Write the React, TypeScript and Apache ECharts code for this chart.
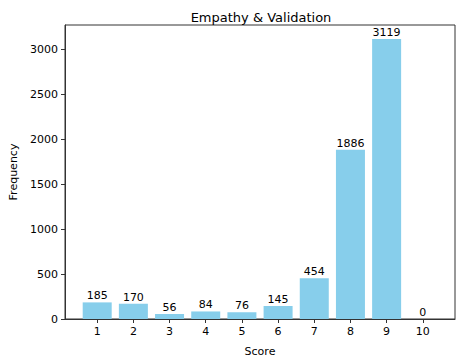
import React, { useEffect, useRef } from "react";
import * as echarts from "echarts";

const scores = [1, 2, 3, 4, 5, 6, 7, 8, 9, 10];
const frequencies = [185, 170, 56, 84, 76, 145, 454, 1886, 3119, 0];
const yTicks = [0, 500, 1000, 1500, 2000, 2500, 3000];

export default function App() {
  const ref = useRef<HTMLDivElement>(null);
  useEffect(() => {
    document.body.style.margin = "0";
    const chart = echarts.init(ref.current!, null, { renderer: "svg" });
    const font = "DejaVu Sans";
    chart.setOption({
      animation: false,
      backgroundColor: "#ffffff",
      textStyle: { fontFamily: font },
      title: {
        text: "Empathy & Validation",
        left: 256,
        textAlign: "center",
        top: 6,
        textStyle: { fontFamily: font, fontSize: 13, fontWeight: "normal", color: "#000" },
      },
      grid: {
        left: 59,
        right: 8,
        top: 25,
        bottom: 42,
        show: true,
        borderColor: "#333",
        borderWidth: 1,
        backgroundColor: "transparent",
      },
      xAxis: {
        type: "value",
        min: 0.11,
        max: 10.89,
        name: "Score",
        nameLocation: "middle",
        nameGap: 27,
        nameTextStyle: { fontFamily: font, fontSize: 11, color: "#000" },
        axisLine: { show: true, onZero: false, lineStyle: { color: "#333" } },
        axisTick: { show: true, length: 4, customValues: scores, lineStyle: { color: "#333" } },
        axisLabel: {
          customValues: scores,
          fontFamily: font,
          fontSize: 11,
          color: "#000",
          margin: 7,
          formatter: (v: number) => String(v),
        },
        splitLine: { show: false },
      },
      yAxis: {
        type: "value",
        min: 0,
        max: 3275,
        name: "Frequency",
        nameLocation: "middle",
        nameGap: 46,
        nameTextStyle: { fontFamily: font, fontSize: 11, color: "#000" },
        axisLine: { show: true, lineStyle: { color: "#333" } },
        axisTick: { show: true, length: 4, customValues: yTicks, lineStyle: { color: "#333" } },
        axisLabel: {
          customValues: yTicks,
          fontFamily: font,
          fontSize: 11,
          color: "#000",
          margin: 7,
          formatter: (v: number) => String(v),
        },
        splitLine: { show: false },
      },
      series: [
        {
          type: "bar",
          data: scores.map((s, i) => [s, frequencies[i]]),
          barWidth: 29,
          itemStyle: { color: "#87CEEB" },
          label: {
            show: true,
            position: "top",
            distance: 1,
            fontFamily: font,
            fontSize: 11,
            color: "#000",
            formatter: (p: any) => String(p.value[1]),
          },
        },
      ],
    });
    return () => chart.dispose();
  }, []);
  return <div ref={ref} style={{ width: 463, height: 362, position: "fixed", left: 0, top: 0 }} />;
}
